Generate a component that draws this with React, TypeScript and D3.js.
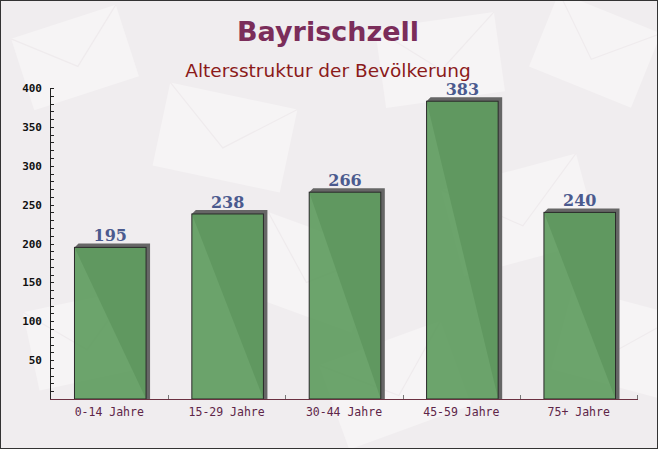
import React, { useEffect, useRef } from 'react';
import * as d3 from 'd3';

const categories = ['0-14 Jahre', '15-29 Jahre', '30-44 Jahre', '45-59 Jahre', '75+ Jahre'];
const values = [195, 238, 266, 383, 240];
const yTicks = [50, 100, 150, 200, 250, 300, 350, 400];

const W = 658;
const H = 449;
const margin = { top: 88, right: 20, bottom: 50, left: 50 };

// faint envelope shapes in the background (decoration only)
const envelopes = [
  { x: 20, y: 20, w: 110, h: 75, r: -18 },
  { x: 160, y: 95, w: 130, h: 85, r: 12 },
  { x: 380, y: 20, w: 120, h: 80, r: -8 },
  { x: 540, y: 10, w: 110, h: 80, r: 22 },
  { x: 450, y: 170, w: 140, h: 90, r: -15 },
  { x: 250, y: 230, w: 120, h: 85, r: 20 },
  { x: 30, y: 300, w: 110, h: 80, r: -12 },
  { x: 560, y: 300, w: 110, h: 85, r: 15 },
  { x: 330, y: 340, w: 130, h: 90, r: -20 },
];

const App: React.FC = () => {
  const svgRef = useRef<SVGSVGElement>(null);

  useEffect(() => {
    document.body.style.margin = '0';
    if (!svgRef.current) return;
    const svg = d3.select(svgRef.current);
    svg.selectAll('*').remove();

    const innerW = W - margin.left - margin.right;
    const innerH = H - margin.top - margin.bottom;

    svg.append('rect').attr('width', W).attr('height', H).attr('fill', '#f0edef');

    const bg = svg.append('g');
    envelopes.forEach(e => {
      const g = bg.append('g')
        .attr('transform', `translate(${e.x + e.w / 2},${e.y + e.h / 2}) rotate(${e.r})`);
      g.append('rect')
        .attr('x', -e.w / 2).attr('y', -e.h / 2)
        .attr('width', e.w).attr('height', e.h)
        .attr('fill', '#f6f4f5');
      g.append('path')
        .attr('d', `M${-e.w / 2},${-e.h / 2} L0,${e.h / 8} L${e.w / 2},${-e.h / 2}`)
        .attr('fill', 'none').attr('stroke', '#efebed').attr('stroke-width', 1.2);
    });

    const x = d3.scaleBand().domain(categories).range([0, innerW]).paddingInner(0.39).paddingOuter(0.2);
    const y = d3.scaleLinear().domain([0, 400]).range([innerH, 0]);

    const g = svg.append('g').attr('transform', `translate(${margin.left},${margin.top})`);

    // bars with 3D shadow
    const depth = 4;
    categories.forEach((c, i) => {
      const bx = x(c)! + 1;
      const bw = x.bandwidth();
      const by = y(values[i]);
      const b0 = y(0);
      g.append('polygon')
        .attr('points', [[bx, by], [bx + depth, by - depth], [bx + bw + depth, by - depth], [bx + bw + depth, b0], [bx + bw, b0]].map(p => p.join(',')).join(' '))
        .attr('fill', '#666');
      g.append('rect')
        .attr('x', bx).attr('y', by)
        .attr('width', bw).attr('height', b0 - by)
        .attr('fill', 'rgba(96,156,96,0.92)')
        .attr('stroke', '#2a2a2a').attr('stroke-width', 1);
      g.append('text')
        .attr('x', bx + bw / 2).attr('y', by - 6)
        .attr('text-anchor', 'middle')
        .attr('font-family', '"DejaVu Serif", serif')
        .attr('font-weight', 'bold')
        .attr('font-size', 16)
        .attr('fill', '#4b5a8e')
        .text(values[i]);
    });

    // y axis
    g.append('line').attr('x1', 0.5).attr('x2', 0.5).attr('y1', 0).attr('y2', innerH)
      .attr('stroke', '#222');
    d3.range(10, 401, 10).forEach(t => {
      g.append('line')
        .attr('x1', 0).attr('x2', 4)
        .attr('y1', Math.round(y(t)) + 0.5).attr('y2', Math.round(y(t)) + 0.5)
        .attr('stroke', '#222');
    });
    yTicks.forEach(t => {
      g.append('text')
        .attr('x', -8).attr('y', y(t) + 4)
        .attr('text-anchor', 'end')
        .attr('font-family', '"DejaVu Sans Mono", monospace')
        .attr('font-weight', 'bold')
        .attr('font-size', 11)
        .attr('fill', '#111')
        .text(t);
    });

    // x axis
    g.append('line').attr('x1', 0).attr('x2', innerW).attr('y1', innerH + 0.5).attr('y2', innerH + 0.5)
      .attr('stroke', '#6b3040');
    categories.forEach((c, i) => {
      const edge = x(c)! + x.bandwidth() + x.step() * x.paddingInner() / 2;
      g.append('line')
        .attr('x1', Math.round(edge) + 0.5).attr('x2', Math.round(edge) + 0.5)
        .attr('y1', innerH).attr('y2', innerH - 4)
        .attr('stroke', '#777');
      g.append('text')
        .attr('x', x(c)! + x.bandwidth() / 2).attr('y', innerH + 17)
        .attr('text-anchor', 'middle')
        .attr('font-family', '"DejaVu Sans Mono", monospace')
        .attr('font-size', 11.5)
        .attr('fill', '#5e2548')
        .text(c);
    });

    // titles
    svg.append('text')
      .attr('x', 328).attr('y', 41)
      .attr('text-anchor', 'middle')
      .attr('font-family', '"DejaVu Sans", sans-serif')
      .attr('font-weight', 'bold')
      .attr('font-size', 27)
      .attr('fill', '#7b2d5a')
      .text('Bayrischzell');
    svg.append('text')
      .attr('x', 328).attr('y', 77)
      .attr('text-anchor', 'middle')
      .attr('font-family', '"DejaVu Sans", sans-serif')
      .attr('font-size', 18.5)
      .attr('fill', '#8b1a1a')
      .text('Altersstruktur der Bevölkerung');

    svg.append('rect').attr('x', 0.5).attr('y', 0.5).attr('width', W - 1).attr('height', H - 1)
      .attr('fill', 'none').attr('stroke', '#333');
  }, []);

  return <svg ref={svgRef} width={W} height={H} style={{ display: 'block' }} />;
};

export default App;
